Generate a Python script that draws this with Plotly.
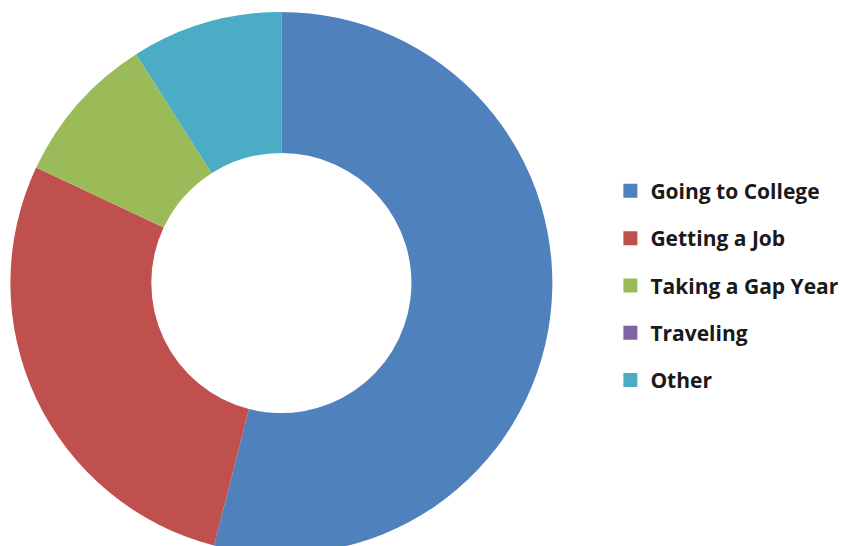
import plotly.graph_objects as go

labels = ["Going to College", "Getting a Job", "Taking a Gap Year", "Traveling", "Other"]
values = [54, 28, 9, 0, 9]
colors = ["#4F81BD", "#C0504D", "#9BBB59", "#8064A2", "#4BACC6"]

fig = go.Figure(go.Pie(
    labels=labels, values=values, hole=0.48, sort=False, direction="clockwise",
    rotation=0, textinfo="none", hoverinfo="label+value", showlegend=False,
    marker=dict(colors=colors, line=dict(width=0)),
    domain=dict(x=[0.0, 0.64], y=[0, 1]),
))
# legend entries (one per category, spaced like the reference)
for lab, col in zip(labels, colors):
    fig.add_trace(go.Scatter(
        x=[None], y=[None], mode="markers", name=lab, legendgroup=lab,
        marker=dict(symbol="square", size=14, color=col),
        showlegend=True, hoverinfo="skip",
    ))
fig.update_layout(
    width=850, height=546, margin=dict(l=2, r=0, t=4, b=0),
    paper_bgcolor="white", plot_bgcolor="white",
    xaxis=dict(visible=False), yaxis=dict(visible=False),
    legend=dict(x=0.708, y=0.495, xanchor="left", yanchor="middle",
                font=dict(family="Open Sans", size=21, color="#1a1a1a", weight="bold"),
                itemwidth=30, tracegroupgap=17, traceorder="grouped"),
)
fig.write_html("out.html")
